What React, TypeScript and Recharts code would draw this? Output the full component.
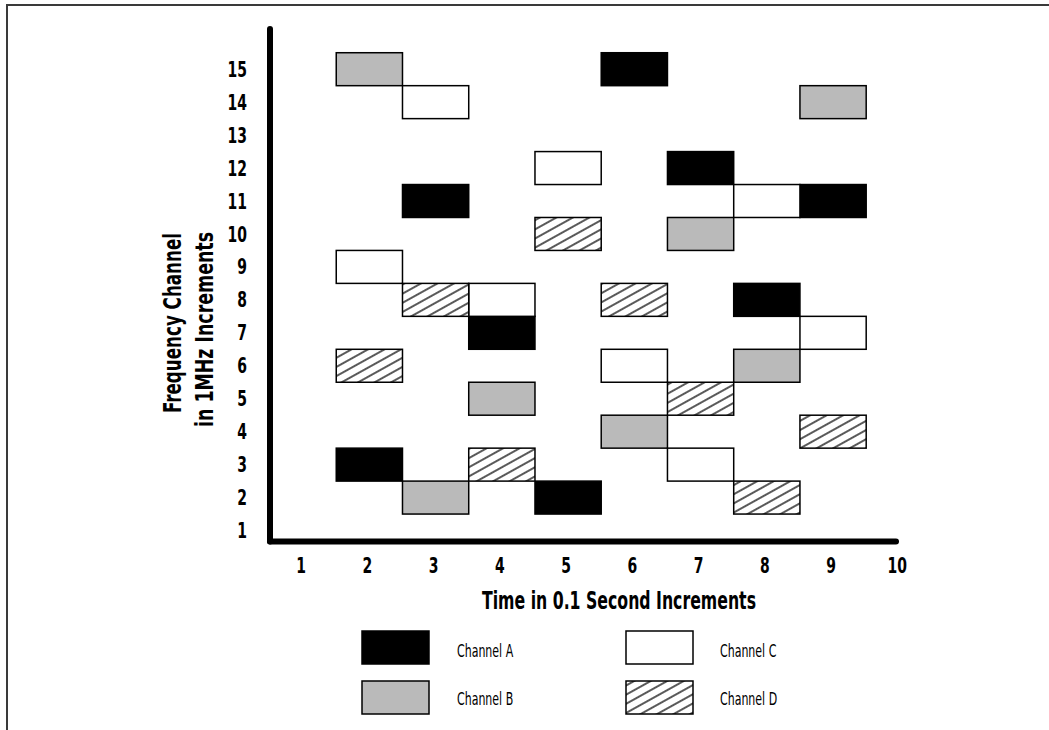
import { ScatterChart, Scatter, XAxis, YAxis, Legend } from 'recharts'

// time slots (x) and the frequency channel each transmitter hops to (y)
const TIME_SLOTS = [2, 3, 4, 5, 6, 7, 8, 9]
const CHANNEL_A = [3, 11, 7, 2, 15, 12, 8, 11]
const CHANNEL_B = [15, 2, 5, null, 4, 10, 6, 14]
const CHANNEL_C = [9, 14, 8, 12, 6, 3, 11, 7]
const CHANNEL_D = [6, 8, 3, 10, 8, 5, 2, 4]

const X_TICKS = [1, 2, 3, 4, 5, 6, 7, 8, 9, 10]
const Y_TICKS = [1, 2, 3, 4, 5, 6, 7, 8, 9, 10, 11, 12, 13, 14, 15]

const FONT = "'Liberation Sans Narrow', 'DejaVu Sans Condensed', 'Arial Narrow', sans-serif"

const CHART_W = 1049
const CHART_H = 730
const PLOT_LEFT = 270
const PLOT_RIGHT = 896
const PLOT_TOP = 29
const PLOT_BOTTOM = 541.5
const Y_AXIS_W = 60
const X_AXIS_H = 60
const X_DOMAIN: [number, number] = [0.5, 9.95]
const Y_DOMAIN: [number, number] = [0.667, 16.22]

// one slot is one unit wide and one unit high
const CELL_W = (PLOT_RIGHT - PLOT_LEFT) / (X_DOMAIN[1] - X_DOMAIN[0])
const CELL_H = (PLOT_BOTTOM - PLOT_TOP) / (Y_DOMAIN[1] - Y_DOMAIN[0])

const toPoints = (values: (number | null)[]) =>
  TIME_SLOTS.map((t, i) => ({ t, f: values[i] })).filter((p) => p.f != null)

const CHANNELS = [
  { name: 'Channel A', fill: '#000000', data: toPoints(CHANNEL_A) },
  { name: 'Channel B', fill: '#bababa', data: toPoints(CHANNEL_B) },
  { name: 'Channel C', fill: '#ffffff', data: toPoints(CHANNEL_C) },
  { name: 'Channel D', fill: 'url(#hatch)', data: toPoints(CHANNEL_D) },
]

// eslint-disable-next-line @typescript-eslint/no-explicit-any
function Slot(props: any) {
  const { cx, cy, fill } = props
  if (cx == null || cy == null) return null
  return (
    <rect
      x={cx - CELL_W / 2}
      y={cy - CELL_H / 2}
      width={CELL_W}
      height={CELL_H}
      fill={fill}
      stroke="#000"
      strokeWidth={1.5}
    />
  )
}

// condensed bold digits, squeezed horizontally to match the narrow face
// eslint-disable-next-line @typescript-eslint/no-explicit-any
function XTick(props: any) {
  const { x, y, payload } = props
  return (
    <text transform={`translate(${x - 2},${y}) scale(0.74,1)`} dy="0.73em" textAnchor="middle"
      fontFamily={FONT} fontWeight={700} fontSize={21} fill="#000">
      {payload.value}
    </text>
  )
}

// eslint-disable-next-line @typescript-eslint/no-explicit-any
function YTick(props: any) {
  const { x, y, payload } = props
  return (
    <text transform={`translate(${x},${y}) scale(0.74,1)`} dy="0.36em" textAnchor="end"
      fontFamily={FONT} fontWeight={700} fontSize={21} fill="#000">
      {payload.value}
    </text>
  )
}

function XTitle() {
  return (
    <text x={619} y={609} textAnchor="middle" fontFamily={FONT} fontWeight={700} fontSize={25}
      textLength={274} lengthAdjust="spacingAndGlyphs" fill="#000">
      Time in 0.1 Second Increments
    </text>
  )
}

function YTitle() {
  return (
    <g fontFamily={FONT} fontWeight={700} fontSize={25} fill="#000">
      <text transform="translate(181, 323) rotate(-90)" textAnchor="middle"
        textLength={180} lengthAdjust="spacingAndGlyphs">
        Frequency Channel
      </text>
      <text transform="translate(213, 329.5) rotate(-90)" textAnchor="middle"
        textLength={195} lengthAdjust="spacingAndGlyphs">
        in 1MHz Increments
      </text>
    </g>
  )
}

function ChannelLegend() {
  return (
    <svg width={520} height={110}>
      {CHANNELS.map((ch, i) => {
        const col = Math.floor(i / 2)
        const row = i % 2
        return (
          <g key={ch.name}>
            <rect x={22 + col * 264} y={11 + row * 50} width={67} height={33}
              fill={ch.fill} stroke="#000" strokeWidth={1.5} />
            <text transform={`translate(${117 + col * 263},${37 + row * 48}) scale(0.68,1)`}
              fontFamily={FONT} fontSize={18} fill="#000">
              {ch.name}
            </text>
          </g>
        )
      })}
    </svg>
  )
}

const axisLineStyle = { stroke: '#000', strokeWidth: 6, strokeLinecap: 'round' as const }

export default function App() {
  return (
    <div style={{ position: 'absolute', left: 0, top: 0, width: CHART_W, height: CHART_H, background: '#fff' }}>
      <svg width={0} height={0} style={{ position: 'absolute' }}>
        <defs>
          <pattern id="hatch" patternUnits="userSpaceOnUse" width={8} height={8} patternTransform="rotate(-29)">
            <rect width={8} height={8} fill="#fff" />
            <line x1={0} y1={4} x2={8} y2={4} stroke="#000" strokeWidth={1.3} />
          </pattern>
        </defs>
      </svg>
      <div style={{
        position: 'absolute', left: 6, top: 4, width: CHART_W - 6, height: CHART_H - 4,
        borderTop: '2px solid #3a3a3a', borderLeft: '2px solid #3a3a3a', boxSizing: 'border-box',
      }} />
      <ScatterChart
        width={CHART_W}
        height={CHART_H}
        margin={{
          top: PLOT_TOP,
          left: PLOT_LEFT - Y_AXIS_W,
          right: CHART_W - PLOT_RIGHT,
          bottom: CHART_H - PLOT_BOTTOM - X_AXIS_H,
        }}
      >
        <XAxis
          type="number"
          dataKey="t"
          domain={X_DOMAIN}
          ticks={X_TICKS}
          allowDataOverflow
          height={X_AXIS_H}
          tick={<XTick />}
          tickLine={false}
          tickSize={0}
          tickMargin={16}
          axisLine={axisLineStyle}
          label={<XTitle />}
        />
        <YAxis
          type="number"
          dataKey="f"
          domain={Y_DOMAIN}
          ticks={Y_TICKS}
          allowDataOverflow
          width={Y_AXIS_W}
          tick={<YTick />}
          tickLine={false}
          tickSize={0}
          tickMargin={23}
          axisLine={axisLineStyle}
          label={<YTitle />}
        />
        {CHANNELS.map((ch) => (
          <Scatter
            key={ch.name}
            name={ch.name}
            data={ch.data}
            fill={ch.fill}
            isAnimationActive={false}
            shape={(p: object) => <Slot {...p} fill={ch.fill} />}
          />
        ))}
        <Legend
          layout="horizontal"
          verticalAlign="middle"
          align="center"
          content={<ChannelLegend />}
          wrapperStyle={{ left: 340, top: 620, width: 520, height: 110 }}
        />
      </ScatterChart>
    </div>
  )
}
